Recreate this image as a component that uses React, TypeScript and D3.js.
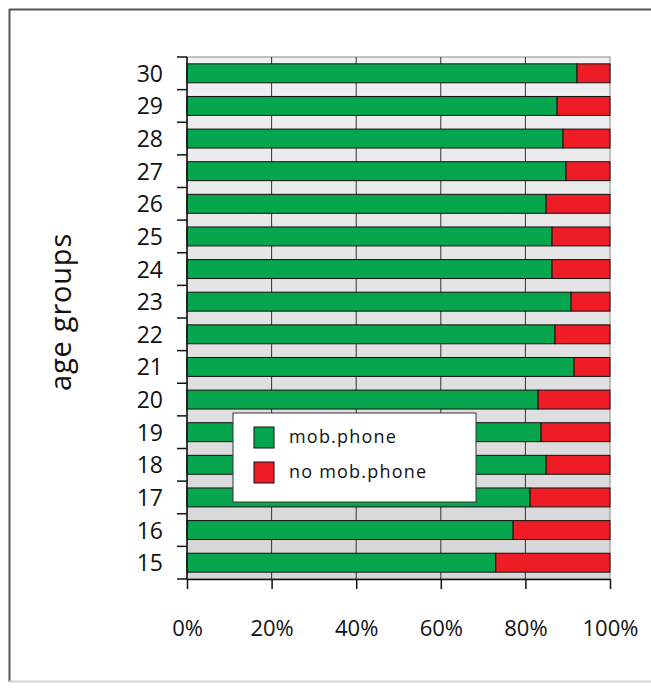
import React, { useEffect, useRef } from 'react';
import * as d3 from 'd3';

// age groups, bottom to top as in the picture
const AGE_GROUPS = ['15', '16', '17', '18', '19', '20', '21', '22', '23', '24', '25', '26', '27', '28', '29', '30'];
const MOB_PHONE = [73.0, 77.1, 81.1, 84.9, 83.7, 83.0, 91.5, 87.0, 90.8, 86.3, 86.3, 84.9, 89.6, 88.9, 87.5, 92.2];
const NO_MOB_PHONE = [27.0, 22.9, 18.9, 15.1, 16.3, 17.0, 8.5, 13.0, 9.2, 13.7, 13.7, 15.1, 10.4, 11.1, 12.5, 7.8];
const X_TICKS = [0, 0.2, 0.4, 0.6, 0.8, 1];
const SERIES = ['mob.phone', 'no mob.phone'];

const COLORS = ['#06a64f', '#ee1c25'];
const FONT = "'Open Sans', 'DejaVu Sans', sans-serif";

const App: React.FC = () => {
  const svgRef = useRef<SVGSVGElement>(null);

  useEffect(() => {
    if (!svgRef.current) return;
    const svg = d3.select(svgRef.current);
    svg.selectAll('*').remove();

    const left = 187, right = 610, top = 57, bottom = 579;

    const rows = AGE_GROUPS.map((age, i) => ({
      age,
      'mob.phone': MOB_PHONE[i],
      'no mob.phone': NO_MOB_PHONE[i],
    }));

    const x = d3.scaleLinear().domain([0, 1]).range([left, right]);
    const y = d3.scaleBand()
      .domain([...AGE_GROUPS].reverse())
      .range([top, bottom])
      .paddingInner(0.42)
      .paddingOuter(0.21);

    const color = d3.scaleOrdinal<string>().domain(SERIES).range(COLORS);

    // outer frame
    svg.append('line').attr('x1', 9.5).attr('x2', 9.5).attr('y1', 9).attr('y2', 682)
      .attr('stroke', '#555').attr('stroke-width', 2);
    svg.append('line').attr('x1', 9).attr('x2', 651).attr('y1', 9.5).attr('y2', 9.5)
      .attr('stroke', '#555').attr('stroke-width', 2);
    svg.append('line').attr('x1', 9).attr('x2', 651).attr('y1', 681.5).attr('y2', 681.5)
      .attr('stroke', '#d4d4d4').attr('stroke-width', 2);

    // plot area, gray fading lighter toward the top
    const defs = svg.append('defs');
    const grad = defs.append('linearGradient').attr('id', 'plotbg')
      .attr('x1', 0).attr('x2', 0).attr('y1', 0).attr('y2', 1);
    grad.append('stop').attr('offset', '0%').attr('stop-color', '#f0f0f2');
    grad.append('stop').attr('offset', '100%').attr('stop-color', '#d6d6d8');

    svg.append('rect')
      .attr('x', left).attr('y', top)
      .attr('width', right - left).attr('height', bottom - top)
      .attr('fill', 'url(#plotbg)')
      .attr('stroke', '#8a8a8a').attr('stroke-width', 1);

    // vertical grid lines
    svg.append('g')
      .selectAll('line')
      .data(X_TICKS.slice(1, -1))
      .join('line')
      .attr('x1', d => x(d)).attr('x2', d => x(d))
      .attr('y1', top).attr('y2', bottom)
      .attr('stroke', '#333').attr('stroke-width', 1);

    // stacked bars
    const stacked = d3.stack<any>().keys(SERIES).offset(d3.stackOffsetExpand)(rows);
    svg.append('g')
      .selectAll('g')
      .data(stacked)
      .join('g')
      .attr('fill', d => color(d.key))
      .selectAll('rect')
      .data(d => d)
      .join('rect')
      .attr('x', d => x(d[0]))
      .attr('width', d => x(d[1]) - x(d[0]))
      .attr('y', d => y(d.data.age)!)
      .attr('height', y.bandwidth())
      .attr('stroke', '#111')
      .attr('stroke-width', 1);

    // y axis: line, ticks between groups, labels
    const gap = (y.step() - y.bandwidth()) / 2;
    const bounds = [...y.domain().map(d => y(d)! - gap), bottom];
    const yAxis = svg.append('g');
    yAxis.append('line')
      .attr('x1', left).attr('x2', left).attr('y1', top).attr('y2', bottom)
      .attr('stroke', '#111').attr('stroke-width', 1.5);
    yAxis.selectAll('line.tick')
      .data(bounds)
      .join('line')
      .attr('class', 'tick')
      .attr('x1', left - 10).attr('x2', left)
      .attr('y1', d => d).attr('y2', d => d)
      .attr('stroke', '#111').attr('stroke-width', 1.5);
    yAxis.selectAll('text')
      .data(y.domain())
      .join('text')
      .attr('x', left - 24)
      .attr('y', d => y(d)! + y.bandwidth() / 2)
      .attr('dy', '0.37em')
      .attr('text-anchor', 'end')
      .attr('font-family', FONT)
      .attr('font-size', 23)
      .attr('fill', '#111')
      .text(d => d);

    // x axis
    const xAxis = svg.append('g')
      .attr('transform', `translate(0,${bottom})`)
      .call(d3.axisBottom(x).tickValues(X_TICKS).tickFormat(d3.format('.0%')).tickSize(10).tickSizeOuter(0).tickPadding(31));
    xAxis.select('.domain').attr('stroke', '#111').attr('stroke-width', 1.5);
    xAxis.selectAll('.tick line').attr('stroke', '#111').attr('stroke-width', 1.5);
    xAxis.selectAll('.tick text')
      .attr('font-family', FONT)
      .attr('font-size', 22)
      .attr('fill', '#111');

    // axis title
    svg.append('text')
      .attr('transform', 'translate(71,312) rotate(-90)')
      .attr('text-anchor', 'middle')
      .attr('font-family', FONT)
      .attr('font-size', 29)
      .attr('letter-spacing', 0.8)
      .attr('fill', '#111')
      .text('age groups');

    // legend
    const legend = svg.append('g').attr('transform', 'translate(233,413)');
    legend.append('rect')
      .attr('width', 243).attr('height', 89)
      .attr('fill', '#fff').attr('stroke', '#333').attr('stroke-width', 1);
    const item = legend.selectAll('g')
      .data(SERIES)
      .join('g')
      .attr('transform', (d, i) => `translate(21,${14 + i * 35})`);
    item.append('rect')
      .attr('width', 20).attr('height', 21)
      .attr('fill', d => color(d))
      .attr('stroke', '#111').attr('stroke-width', 1);
    item.append('text')
      .attr('x', 35).attr('y', 16)
      .attr('font-family', FONT)
      .attr('font-size', 18)
      .attr('letter-spacing', 1.2)
      .attr('fill', '#111')
      .text(d => d);
  }, []);

  return (
    <div style={{ position: 'absolute', left: 0, top: 0, background: '#fff' }}>
      <svg ref={svgRef} width={651} height={688} viewBox="0 0 651 688" />
    </div>
  );
};

export default App;
